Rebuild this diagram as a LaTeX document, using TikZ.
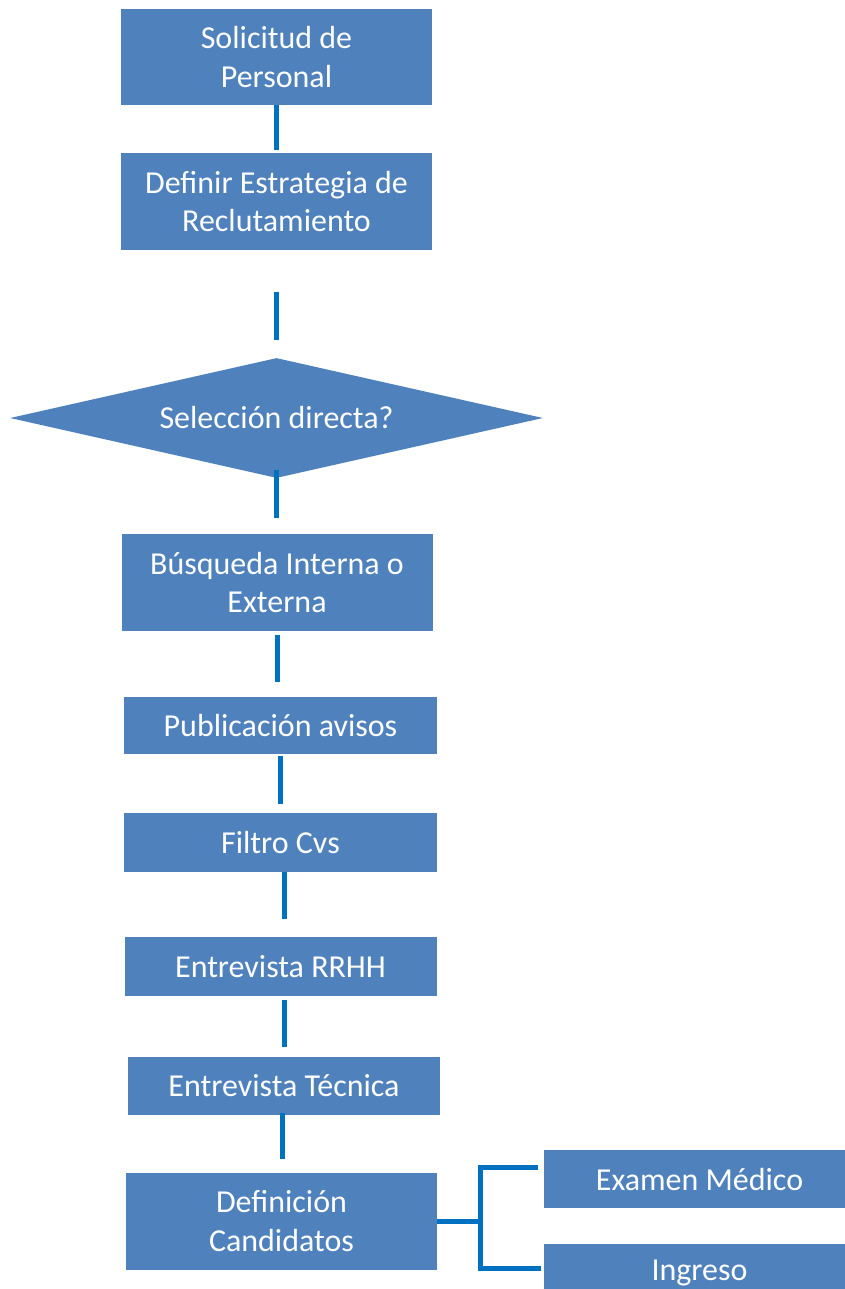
\documentclass[tikz,border=0pt]{standalone}
\usepackage{fontspec}
\setmainfont{Carlito}
\usetikzlibrary{calc,shapes.geometric}

\definecolor{cajaazul}{HTML}{4F81BD}
\definecolor{lineaazul}{HTML}{0070C0}

\tikzset{
	caja/.style={fill=cajaazul, text=white, minimum width=6.22cm, inner sep=0pt,
		align=center, font=\fontsize{18.2pt}{21.8pt}\selectfont},
	decision/.style={diamond, aspect=4.44, fill=cajaazul, text=white, inner sep=0pt,
		minimum width=10.66cm, minimum height=2.4cm, font=\fontsize{18.2pt}{21.8pt}\selectfont},
	enlace/.style={draw=lineaazul, line width=0.1cm}
}

\begin{document}
\begin{tikzpicture}
\useasboundingbox (0,0) rectangle (16.9,-25.78);

\node[caja, minimum height=1.92cm] (sol) at (5.53,-1.14) {Solicitud de\\Personal};
\node[caja, minimum height=1.94cm] (estr) at (5.53,-4.03) {Definir Estrategia de\\Reclutamiento};
\node[decision] (sel) at (5.53,-8.36) {Selección directa?};
\node[caja, minimum height=1.94cm] (busq) at (5.54,-11.65) {Búsqueda Interna o\\Externa};
\node[caja, minimum width=6.26cm, minimum height=1.14cm] (pub) at (5.61,-14.51) {Publicación avisos};
\node[caja, minimum width=6.26cm, minimum height=1.18cm] (filt) at (5.61,-16.85) {Filtro Cvs};
\node[caja, minimum width=6.24cm, minimum height=1.18cm] (rrhh) at (5.61,-19.33) {Entrevista RRHH};
\node[caja, minimum width=6.23cm, minimum height=1.16cm] (tec) at (5.68,-21.71) {Entrevista Técnica};
\node[caja, minimum height=1.94cm] (cand) at (5.63,-24.42) {Definición\\Candidatos};
\node[caja, minimum height=1.16cm] (exam) at (13.99,-23.58) {Examen Médico};
\node[caja, minimum height=1.16cm] (ing) at (13.99,-25.46) {Ingreso};

% lineas verticales
\draw[enlace, shorten >=0.06cm] (sol.south) -- (sol.south |- estr.north);
\draw[enlace, shorten <=0.84cm, shorten >=0.36cm] (estr.south) -- (estr.south |- sel.north);
\draw[enlace, shorten <=-0.16cm, shorten >=0.32cm] (sel.south) -- (sel.south |- busq.north);
\draw[enlace, shorten <=0.08cm, shorten >=0.3cm] (busq.south) -- (busq.south |- pub.north);
\draw[enlace, shorten <=0.04cm, shorten >=0.18cm] (pub.south) -- (pub.south |- filt.north);
\draw[enlace, shorten >=0.36cm] ([xshift=0.07cm]filt.south) -- ([xshift=0.07cm]filt.south |- rrhh.north);
\draw[enlace, shorten <=0.08cm, shorten >=0.18cm] ([xshift=0.07cm]rrhh.south) -- ([xshift=0.07cm]rrhh.south |- tec.north);
\draw[enlace, shorten <=-0.04cm, shorten >=0.26cm] ([xshift=-0.04cm]tec.south) -- ([xshift=-0.04cm]tec.south |- cand.north);

% llave final
\coordinate (rama) at ($(cand.east)+(0.86,0)$);
\draw[enlace] (cand.east) -- (rama);
\draw[enlace] ($(exam.west)+(-0.12,0.24)$) -| (rama) |- ($(ing.west)+(-0.06,0.1)$);

\end{tikzpicture}
\end{document}
